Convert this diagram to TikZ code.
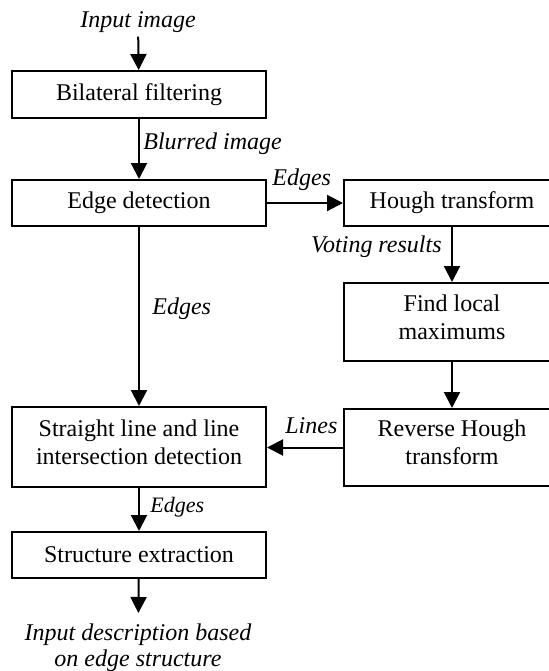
\documentclass[tikz,border=0pt]{standalone}
\usepackage{fontspec}
\setmainfont{Liberation Serif}
\usetikzlibrary{arrows.meta}
\begin{document}
\begin{tikzpicture}[x=0.5pt,y=-0.5pt,
  box/.style={draw, line width=1pt, inner sep=0pt, align=center,
    font=\fontsize{12}{13.8}\selectfont},
  boxtext/.style={inner sep=0pt, align=center, yshift=2.5pt,
    font=\fontsize{12}{13.8}\selectfont},
  lbl/.style={inner sep=0pt, align=center,
    font=\fontsize{12}{13}\selectfont\itshape},
  flow/.style={-{Triangle[length=8pt,width=8pt]}, line width=1pt}]
\useasboundingbox (0,0) rectangle (549,671);
\clip (0,0) rectangle (549,671);

% processing stages, left column
\node[box, minimum width=127pt, minimum height=23.5pt] (bf) at (139,94.5) {Bilateral filtering};
\node[box, minimum width=127pt, minimum height=23pt] (ed) at (139,203) {Edge detection};
\node[box, minimum width=127pt, minimum height=40pt,
  label={[boxtext]center:{Straight line and line\\intersection detection}}] (sl) at (139,447) {};
\node[box, minimum width=127pt, minimum height=23pt] (se) at (139,555) {Structure extraction};

% Hough branch, right column
\node[box, minimum width=108pt, minimum height=23pt] (ht) at (452,203) {Hough transform};
\node[box, minimum width=108pt, minimum height=39pt,
  label={[boxtext]center:{Find local\\maximums}}] (lm) at (452,322) {};
\node[box, minimum width=108pt, minimum height=38.5pt,
  label={[boxtext]center:{Reverse Hough\\transform}}] (rh) at (452,447.5) {};

% input and output
\node[lbl, anchor=base, inner sep=2pt] (in) at (138,27) {Input image};
\node[lbl, anchor=north, inner sep=5pt] (out) at (138,613) {Input description based\\on edge structure};

% data flow
\draw[flow] (in) -- (bf);
\draw[flow] (bf) -- (ed);
\draw[flow] (ed) -- (sl);
\draw[flow] (ed.east) -- (ht.west);
\draw[flow] (ht) -- (lm);
\draw[flow] (lm) -- (rh);
\draw[flow] (rh.west) -- (rh.west -| sl.east);
\draw[flow] (sl) -- (se);
\draw[flow] (se) -- (out);

% connector labels
\node[lbl, anchor=base west] (lblur) at (143,149) {Blurred image};
\node[lbl, anchor=base west] (ledge1) at (272,185) {Edges};
\node[lbl, anchor=base east] (lvote) at (442,252) {Voting results};
\node[lbl, anchor=base west] (ledge2) at (152,314) {Edges};
\node[lbl, anchor=base west] (llines) at (285,433) {Lines};
\node[lbl, anchor=base west, font=\fontsize{11}{12}\selectfont\itshape] (ledge3) at (150,512) {Edges};
\end{tikzpicture}
\end{document}
